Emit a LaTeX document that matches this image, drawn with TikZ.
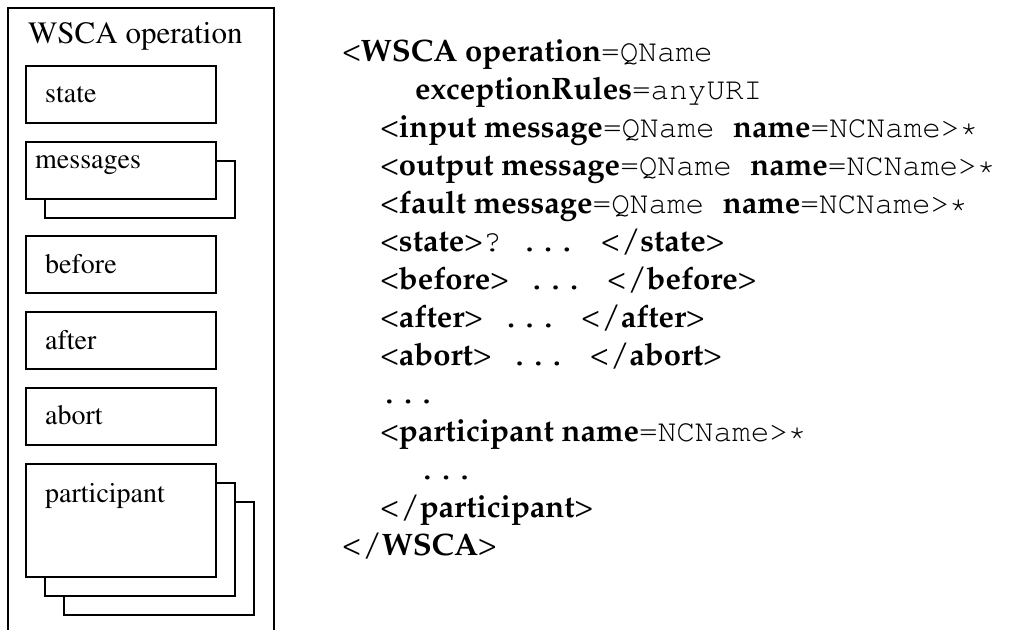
\documentclass[tikz,border=0pt]{standalone}
\usepackage[T1]{fontenc}
\usetikzlibrary{positioning, backgrounds}
\tikzset{
node distance=19pt, % gap between the stacked boxes
opbox/.style={draw, fill=white, line width=1.1pt, minimum width=190pt, minimum height=57pt, inner sep=0pt, outer sep=0pt}, % a box inside the operation
tag/.style={anchor=base west, inner sep=0pt, font=\fontfamily{ptm}\fontsize{28}{30}\selectfont}, % box labels
xml/.style={anchor=base west, inner sep=0pt, font=\fontfamily{ppl}\fontsize{31}{38}\selectfont}, % the syntax on the right
}
\newcommand{\mono}[1]{{\fontfamily{pcr}\fontseries{m}\selectfont #1}}
\newcommand{\kw}[1]{{\bfseries #1}}

\begin{document}
\begin{tikzpicture}[x=1pt, y=-1pt]
\useasboundingbox (0,0) rectangle (1010,630);
\draw[line width=1.1pt] (8,630) -- (8,8) -- (274,8) -- (274,630);
\node[tag, font=\fontfamily{ptm}\fontsize{31}{33}\selectfont] (title) at (28,43) {WSCA operation};

\node[opbox, anchor=north west] (state) at (26,66) {};
\node[opbox, below=of state] (messages) {};
\node[opbox, below=37pt of messages] (before) {};
\node[opbox, below=of before] (after) {};
\node[opbox, below=of after] (abort) {};
\node[opbox, below=of abort, minimum height=113pt] (participant) {};
\begin{scope}[on background layer]
\node[opbox, anchor=north west] (msgBack) at ([xshift=19pt, yshift=-19pt]messages.north west) {};
\node[opbox, anchor=north west, minimum height=113pt] (partBackB) at ([xshift=38pt, yshift=-38pt]participant.north west) {};
\node[opbox, anchor=north west, minimum height=113pt] (partBackA) at ([xshift=19pt, yshift=-19pt]participant.north west) {};
\end{scope}

\node[tag] (stateT) at ([xshift=19pt, yshift=-36pt]state.north west) {state};
\node[tag] (messagesT) at ([xshift=9pt, yshift=-26pt]messages.north west) {messages};
\node[tag] (beforeT) at ([xshift=19pt, yshift=-37pt]before.north west) {before};
\node[tag] (afterT) at ([xshift=19pt, yshift=-37pt]after.north west) {after};
\node[tag] (abortT) at ([xshift=19pt, yshift=-36pt]abort.north west) {abort};
\node[tag] (participantT) at ([xshift=19pt, yshift=-38pt]participant.north west) {participant};

% syntax
\node[xml] (wsca) at (342,61) {<\kw{WSCA operation}\mono{=QName}};
\node[xml] (excRules) at (415,99) {\kw{exceptionRules}\mono{=anyURI}};
\node[xml] (inMsg) at (380,137) {<\kw{input message}\mono{=QName\ }\kw{name}\mono{=NCName>*}};
\node[xml] (outMsg) at (380,175) {<\kw{output message}\mono{=QName\ }\kw{name}\mono{=NCName>*}};
\node[xml] (faultMsg) at (380,213) {<\kw{fault message}\mono{=QName\ }\kw{name}\mono{=NCName>*}};
\node[xml] (stateX) at (380,251) {<\kw{state}>\mono{?\ ...\ }\hspace{6pt}<\kern2pt/\kw{state}>};
\node[xml] (beforeX) at (380,289) {<\kw{before}>\mono{\ ...\ }\hspace{5pt}<\kern2pt/\kw{before}>};
\node[xml] (afterX) at (380,327) {<\kw{after}>\mono{\ ...\ }\hspace{5pt}<\kern2pt/\kw{after}>};
\node[xml] (abortX) at (380,365) {<\kw{abort}>\mono{\ ...\ }\hspace{5pt}<\kern2pt/\kw{abort}>};
\node[xml] (dotsA) at (380,403) {\mono{...}};
\node[xml] (partX) at (380,441) {<\kw{participant name}\mono{=NCName>*}};
\node[xml] (dotsB) at (418,479) {\mono{...}};
\node[xml] (partEnd) at (380,517) {<\kern2pt/\kw{participant}>};
\node[xml] (wscaEnd) at (342,555) {<\kern2pt/\kw{WSCA}>};
\end{tikzpicture}
\end{document}
